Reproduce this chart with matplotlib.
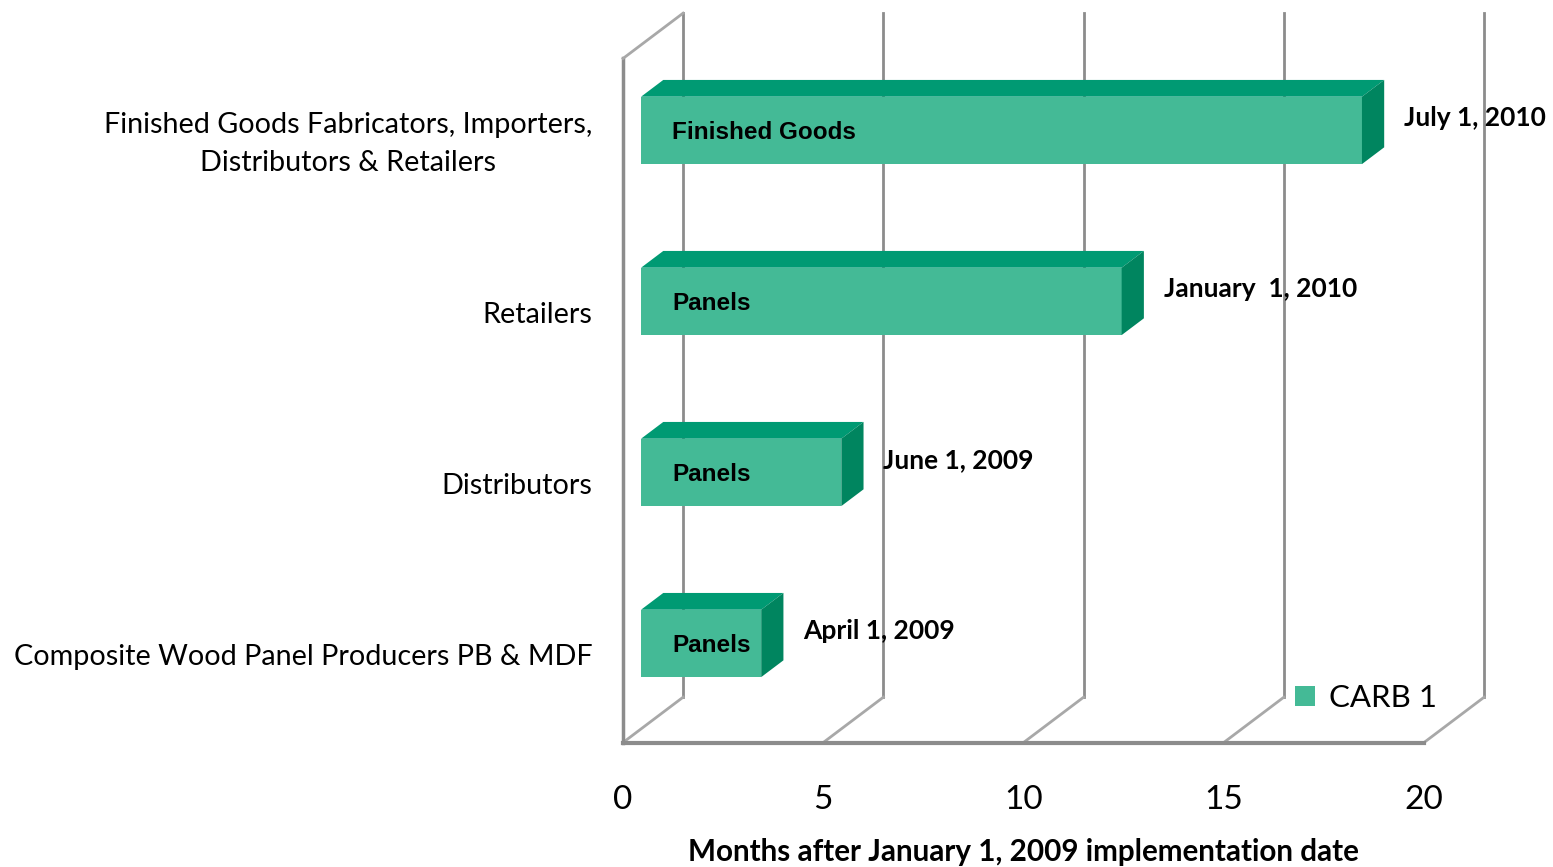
import matplotlib
matplotlib.use("Agg")
import matplotlib.pyplot as plt
from matplotlib.patches import Polygon, Patch

# data
categories = ["Composite Wood Panel Producers PB & MDF",
              "Distributors",
              "Retailers",
              "Finished Goods Fabricators, Importers,\nDistributors & Retailers"]
months = [3, 5, 12, 18]
bar_text = ["Panels", "Panels", "Panels", "Finished Goods"]
date_text = ["April 1, 2009", "June 1, 2009", "January  1, 2010", "July 1, 2010"]
xticks = [0, 5, 10, 15, 20]
series_name = "CARB 1"

# fake 3D look (Excel style) in data units
DX, DY = 1.5, 0.265          # depth offset of the back wall
D0, D1 = 0.30, 0.67          # bar front/back depth fraction
HALF = 0.197                 # half height of a bar
FRONT, TOP, SIDE = "#44BA96", "#009A73", "#00855F"
GRID = "#8c8c8c"
CAL = ["Lato", "DejaVu Sans"]
ARIAL = ["Liberation Sans", "DejaVu Sans"]

fig = plt.figure(figsize=(15.53, 8.67), dpi=100)
ax = fig.add_axes([0, 0, 1, 1])
ax.set_xlim(-15.556, 23.22)
ax.set_ylim(-1.228, 3.842)
ax.axis("off")

ylo, yhi = -0.5, 3.5
xmax = xticks[-1]

# walls / gridlines
for t in xticks:
    ax.plot([t + DX, t + DX], [ylo + DY, yhi + DY], color=GRID, lw=2, zorder=1)
    ax.plot([t, t + DX], [ylo, ylo + DY], color="#a8a8a8", lw=2, zorder=1)
ax.plot([0, 0], [ylo, yhi], color=GRID, lw=2.5, zorder=1)
ax.plot([0, DX], [yhi, yhi + DY], color="#a8a8a8", lw=2, zorder=1)
ax.plot([0, xmax], [ylo, ylo], color=GRID, lw=3, zorder=1)

# bars
for i, v in enumerate(months):
    yc = i + D0 * DY
    ax.barh(yc, v, height=2 * HALF, left=D0 * DX, color=FRONT, zorder=3)
    x0f, x1f = D0 * DX, v + D0 * DX
    x0b, x1b = D1 * DX, v + D1 * DX
    shift = (D1 - D0) * DY
    top = Polygon([(x0f, yc + HALF), (x1f, yc + HALF),
                   (x1b, yc + HALF + shift), (x0b, yc + HALF + shift)],
                  closed=True, facecolor=TOP, edgecolor="none", zorder=3)
    side = Polygon([(x1f, yc - HALF), (x1f, yc + HALF),
                    (x1b, yc + HALF + shift), (x1b, yc - HALF + shift)],
                   closed=True, facecolor=SIDE, edgecolor="none", zorder=3)
    ax.add_patch(top)
    ax.add_patch(side)
    ax.text(1.22, yc - 0.01, bar_text[i], ha="left", va="center",
            fontsize=17.5, fontweight="bold", family=ARIAL, zorder=5)
    ax.text(v + 1.5, i + 0.15, date_text[i], ha="left", va="center",
            fontsize=19, fontweight="bold", family=CAL, zorder=5)

# category labels
for i, c in enumerate(categories):
    ax.text(-0.77, i, c, ha="right", va="center", multialignment="center",
            fontsize=20.7, family=CAL, linespacing=1.55)

# x tick labels and title
for t in xticks:
    ax.text(t, -0.836, str(t), ha="center", va="center", fontsize=24, family=CAL)
ax.text(10.0, -1.14, "Months after January 1, 2009 implementation date",
        ha="center", va="center", fontsize=21.3, fontweight="bold", family=CAL)

ax.legend(handles=[Patch(facecolor=FRONT, label=series_name)],
          loc="center left", bbox_to_anchor=(1295 / 1553, 1 - 698 / 867),
          frameon=False, prop={"family": CAL, "size": 22.5},
          handlelength=0.65, handleheight=0.65, handletextpad=0.45,
          borderaxespad=0, borderpad=0)

fig.savefig("out.png", dpi=100)
